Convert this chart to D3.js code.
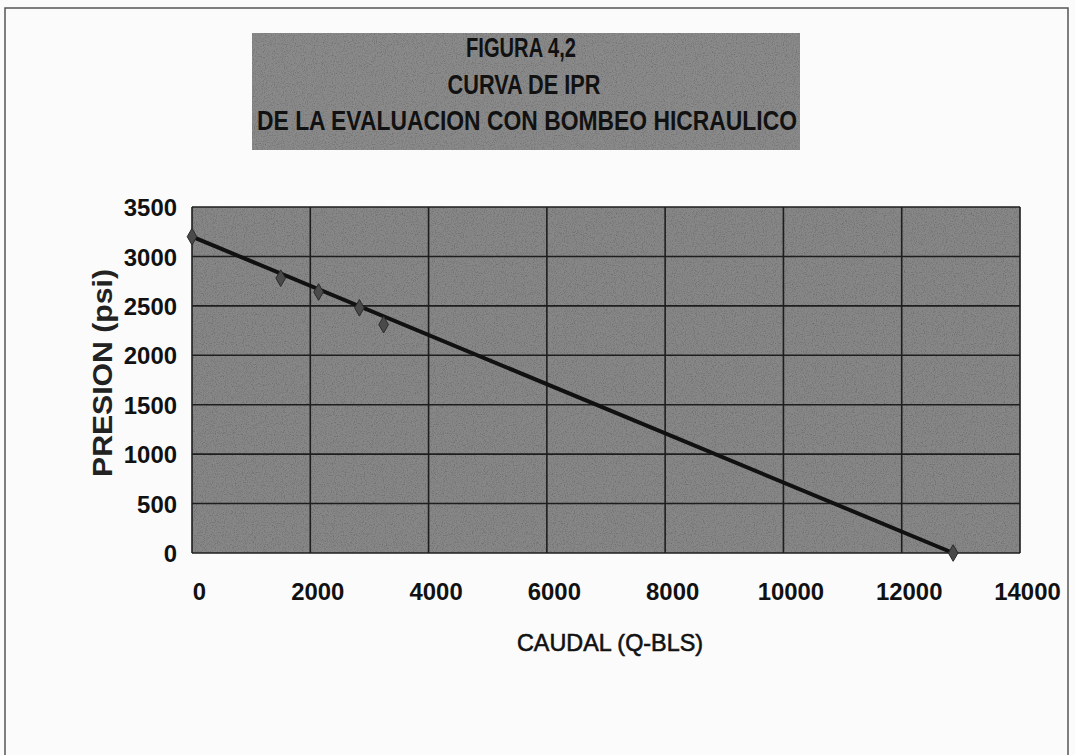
<!DOCTYPE html>
<html>
<head>
<meta charset="utf-8">
<script src="https://cdn.jsdelivr.net/npm/d3@7"></script>
<style>
  html, body { margin: 0; padding: 0; background: #fbfbfb; }
  svg { display: block; }
</style>
</head>
<body>
<svg id="chart" width="1075" height="755"></svg>
<script>
// IPR curve: flowing pressure vs. flow rate
const titleLines = ["FIGURA 4,2", "CURVA DE IPR", "DE LA EVALUACION CON BOMBEO HICRAULICO"];
const xTicks = [0, 2000, 4000, 6000, 8000, 10000, 12000, 14000];
const yTicks = [0, 500, 1000, 1500, 2000, 2500, 3000, 3500];

// measured test points (caudal, presion)
const caudal = [0, 1500, 2140, 2830, 3240, 12870];
const presion = [3200, 2780, 2640, 2480, 2310, 0];

// straight-line IPR between static pressure and maximum flow
const iprCaudal = [0, 12870];
const iprPresion = [3200, 0];

const svg = d3.select("#chart");
const FONT = "Liberation Sans, Arial, sans-serif";
// condensed look: width per glyph for the bold labels
const digitW = 13.3;

const defs = svg.append("defs");
const grain = defs.append("filter").attr("id", "grain")
  .attr("x", 0).attr("y", 0).attr("width", 1).attr("height", 1);
grain.append("feTurbulence").attr("type", "fractalNoise")
  .attr("baseFrequency", 0.9).attr("numOctaves", 2).attr("seed", 4).attr("result", "n");
grain.append("feColorMatrix").attr("in", "n").attr("type", "matrix")
  .attr("values", "0 0 0 0 0  0 0 0 0 0  0 0 0 0 0  0 0 0 -1.4 0.75").attr("result", "a");
grain.append("feComposite").attr("in", "a").attr("in2", "SourceGraphic").attr("operator", "in");

// page frame
svg.append("rect").attr("x", 5).attr("y", 8).attr("width", 1063).attr("height", 760)
  .attr("fill", "none").attr("stroke", "#555").attr("stroke-width", 1.5);

// title box
const tb = { x: 252, y: 33, w: 548, h: 117 };
svg.append("rect").attr("x", tb.x).attr("y", tb.y).attr("width", tb.w).attr("height", tb.h)
  .attr("fill", "#8a8a8a");
svg.append("rect").attr("x", tb.x).attr("y", tb.y).attr("width", tb.w).attr("height", tb.h)
  .attr("fill", "#ffffff").attr("filter", "url(#grain)").attr("opacity", 0.35);
const titleW = [110, 153, 540];
const titleX = [521, 524, 527];
svg.append("g").selectAll("text").data(titleLines).join("text")
  .attr("x", (d, i) => titleX[i]).attr("y", (d, i) => 57 + i * 36.5)
  .attr("text-anchor", "middle")
  .attr("font-family", FONT)
  .attr("font-weight", "bold").attr("font-size", 27)
  .attr("textLength", (d, i) => titleW[i])
  .attr("lengthAdjust", "spacingAndGlyphs")
  .attr("fill", "#111")
  .text(d => d);

// plot area
const m = { left: 192, top: 207, right: 1020, bottom: 553 };
const x = d3.scaleLinear().domain([0, 14000]).range([m.left, m.right]);
const y = d3.scaleLinear().domain([0, 3500]).range([m.bottom, m.top]);

svg.append("rect").attr("x", m.left).attr("y", m.top)
  .attr("width", m.right - m.left).attr("height", m.bottom - m.top)
  .attr("fill", "#878787");
svg.append("rect").attr("x", m.left).attr("y", m.top)
  .attr("width", m.right - m.left).attr("height", m.bottom - m.top)
  .attr("fill", "#ffffff").attr("filter", "url(#grain)").attr("opacity", 0.35);

// gridlines
const grid = svg.append("g").attr("stroke", "#1e1e1e").attr("stroke-width", 1.6);
grid.selectAll("line.v").data(xTicks).join("line").attr("class", "v")
  .attr("x1", d => x(d)).attr("x2", d => x(d))
  .attr("y1", m.top).attr("y2", m.bottom);
grid.selectAll("line.h").data(yTicks).join("line").attr("class", "h")
  .attr("x1", m.left).attr("x2", m.right)
  .attr("y1", d => y(d)).attr("y2", d => y(d));

// axes (labels only)
const fmt = d3.format("d");
const xAxis = svg.append("g").attr("transform", `translate(7,${m.bottom})`)
  .call(d3.axisBottom(x).tickValues(xTicks).tickSize(0).tickPadding(30).tickFormat(fmt));
const yAxis = svg.append("g").attr("transform", `translate(${m.left},0)`)
  .call(d3.axisLeft(y).tickValues(yTicks).tickSize(0).tickPadding(15).tickFormat(fmt));
[xAxis, yAxis].forEach(a => {
  a.select(".domain").remove();
  a.selectAll("text")
    .attr("font-family", FONT)
    .attr("font-weight", "bold").attr("font-size", 24)
    .attr("textLength", d => fmt(d).length * digitW)
    .attr("lengthAdjust", "spacingAndGlyphs")
    .attr("fill", "#111");
});
yAxis.selectAll("text").attr("dy", "0.36em");

// IPR line
svg.append("path")
  .datum(d3.zip(iprCaudal, iprPresion))
  .attr("fill", "none").attr("stroke", "#111").attr("stroke-width", 4)
  .attr("d", d3.line().x(d => x(d[0])).y(d => y(d[1])));

// test point markers
svg.append("g").selectAll("path").data(d3.zip(caudal, presion)).join("path")
  .attr("transform", d => `translate(${x(d[0])},${y(d[1])})`)
  .attr("d", d3.symbol(d3.symbolDiamond, 80))
  .attr("fill", "#4a4a4a").attr("stroke", "#2a2a2a").attr("stroke-width", 1);

// axis titles
svg.append("text")
  .attr("transform", "translate(112,373) rotate(-90)")
  .attr("text-anchor", "middle")
  .attr("font-family", FONT)
  .attr("font-weight", "bold").attr("font-size", 27)
  .attr("textLength", 208).attr("lengthAdjust", "spacingAndGlyphs")
  .attr("fill", "#222")
  .text("PRESION (psi)");
svg.append("text")
  .attr("x", 610).attr("y", 651)
  .attr("text-anchor", "middle")
  .attr("font-family", FONT)
  .attr("font-size", 24)
  .attr("textLength", 186).attr("lengthAdjust", "spacingAndGlyphs")
  .attr("fill", "#111")
  .attr("stroke", "#111").attr("stroke-width", 0.6)
  .text("CAUDAL (Q-BLS)");
</script>
</body>
</html>
